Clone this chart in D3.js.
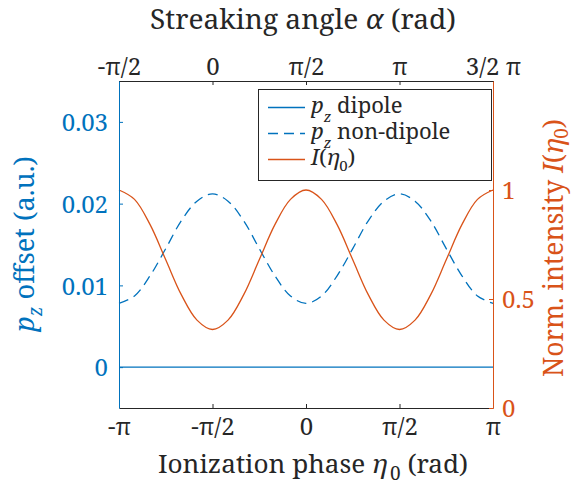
<!DOCTYPE html>
<html><head><meta charset="utf-8">
<script src="https://cdn.jsdelivr.net/npm/d3@7"></script>
<style>
body{margin:0;background:#fff}
svg{display:block}
</style>
</head><body>
<svg id="chart" width="574" height="487" font-family="Noto Serif"></svg>
<script>
// ---- data ----
const etaOverPi = [-1,-0.917,-0.833,-0.75,-0.667,-0.583,-0.5,-0.417,-0.333,-0.25,-0.167,-0.083,0,0.083,0.167,0.25,0.333,0.417,0.5,0.583,0.667,0.75,0.833,0.917,1];
const pzDipole = [0,0,0,0,0,0,0,0,0,0,0,0,0,0,0,0,0,0,0,0,0,0,0,0,0];
const pzNonDipole = [0.0078,0.0087,0.0112,0.0145,0.0179,0.0203,0.0212,0.0203,0.0179,0.0145,0.0112,0.0087,0.0078,0.0087,0.0112,0.0145,0.0179,0.0203,0.0212,0.0203,0.0179,0.0145,0.0112,0.0087,0.0078];
const intensity = [1,0.957,0.84,0.68,0.52,0.403,0.36,0.403,0.52,0.68,0.84,0.957,1,0.957,0.84,0.68,0.52,0.403,0.36,0.403,0.52,0.68,0.84,0.957,1];

const bottomTicksOverPi = [-1,-0.5,0,0.5,1];
const bottomTickLabels = ["-π","-π/2","0","π/2","π"];
const topTicksOverPi = [-0.5,0,0.5,1,1.5];
const topTickLabels = ["-π/2","0","π/2","π","3/2 π"];
const leftTicks = [0,0.01,0.02,0.03];
const leftTickLabels = ["0","0.01","0.02","0.03"];
const rightTicks = [0,0.5,1];
const rightTickLabels = ["0","0.5","1"];

// ---- layout ----
const FONT = "Noto Serif";
const PI = Math.PI;
const L = 119, R = 493, T = 81, B = 408;
const BLUE = "#0072BD", ORANGE = "#D95319", DARK = "#262626";
const TICK = 24;

const svg = d3.select("#chart");
const x = d3.scaleLinear().domain([-PI, PI]).range([L, R]);
const xTop = d3.scaleLinear().domain([-PI/2, 3*PI/2]).range([L, R]);
const yL = d3.scaleLinear().domain([-0.005, 0.035]).range([B, T]);
const yR = d3.scaleLinear().domain([0, 1.5]).range([B, T]);

const pts = (ys) => etaOverPi.map((e,i)=>[e*PI, ys[i]]);

const plot = svg.append("g");
plot.append("path").datum(pts(pzDipole))
  .attr("fill","none").attr("stroke",BLUE).attr("stroke-width",1.3)
  .attr("d", d3.line().x(d=>x(d[0])).y(d=>yL(d[1])));
plot.append("path").datum(pts(pzNonDipole))
  .attr("fill","none").attr("stroke",BLUE).attr("stroke-width",1.3)
  .attr("stroke-dasharray","10,6")
  .attr("d", d3.line().x(d=>x(d[0])).y(d=>yL(d[1])).curve(d3.curveCatmullRom));
plot.append("path").datum(pts(intensity))
  .attr("fill","none").attr("stroke",ORANGE).attr("stroke-width",1.3)
  .attr("d", d3.line().x(d=>x(d[0])).y(d=>yR(d[1])).curve(d3.curveCatmullRom));

function styleAxis(g, color){
  g.attr("font-family", FONT).attr("font-size", TICK).attr("color", color);
  g.selectAll("text").attr("font-family", FONT);
  g.select(".domain").attr("stroke-width",1);
  g.selectAll(".tick line").attr("stroke-width",1);
}

// bottom axis
const gB = svg.append("g").attr("transform",`translate(0,${B})`)
  .call(d3.axisBottom(x).tickValues(bottomTicksOverPi.map(v=>v*PI))
    .tickFormat((d,i)=>bottomTickLabels[i]).tickSizeInner(-4).tickSizeOuter(0).tickPadding(10));
styleAxis(gB, DARK);
// top axis
const gT = svg.append("g").attr("transform",`translate(0,${T})`)
  .call(d3.axisTop(xTop).tickValues(topTicksOverPi.map(v=>v*PI))
    .tickFormat((d,i)=>topTickLabels[i]).tickSizeInner(-4).tickSizeOuter(0).tickPadding(6));
styleAxis(gT, DARK);
// left axis
const gL = svg.append("g").attr("transform",`translate(${L},0)`)
  .call(d3.axisLeft(yL).tickValues(leftTicks)
    .tickFormat((d,i)=>leftTickLabels[i]).tickSizeInner(-4).tickSizeOuter(0).tickPadding(11));
styleAxis(gL, BLUE);
gL.selectAll("text").attr("dy","0.36em");
// right axis
const gR = svg.append("g").attr("transform",`translate(${R},0)`)
  .call(d3.axisRight(yR).tickValues(rightTicks)
    .tickFormat((d,i)=>rightTickLabels[i]).tickSizeInner(-4).tickSizeOuter(0).tickPadding(9));
styleAxis(gR, ORANGE);
gR.selectAll("text").attr("dy","0.36em");

// fit a label's font size so that its width matches the reference
function fit(sel, target){
  const w = sel.node().getBBox().width;
  const fs = +sel.attr("font-size");
  if (w > 0) sel.attr("font-size", (fs*target/w).toFixed(2));
}

// axis titles
const title = svg.append("text").attr("x",(L+R)/2 - 3).attr("y",29).attr("font-family",FONT)
  .attr("text-anchor","middle").attr("font-size",27).attr("fill",DARK);
title.append("tspan").text("Streaking angle ");
title.append("tspan").attr("font-style","italic").text("α");
title.append("tspan").text(" (rad)");

const xl = svg.append("text").attr("x",313).attr("y",473).attr("font-family",FONT)
  .attr("text-anchor","middle").attr("font-size",27).attr("fill",DARK);
xl.append("tspan").text("Ionization phase ");
xl.append("tspan").attr("font-style","italic").text("η");
xl.append("tspan").attr("font-size",19).attr("dy",7).attr("dx",3).text("0");
xl.append("tspan").attr("dy",-7).text(" (rad)");

const yl = svg.append("text").attr("transform","translate(34,244) rotate(-90)").attr("font-family",FONT)
  .attr("text-anchor","middle").attr("font-size",27).attr("fill",BLUE);
yl.append("tspan").attr("font-style","italic").text("p");
yl.append("tspan").attr("font-style","italic").attr("font-size",19).attr("dy",8).text("z");
yl.append("tspan").attr("dy",-8).text(" offset (a.u.)");

const yr = svg.append("text").attr("transform","translate(563,248) rotate(-90)").attr("font-family",FONT)
  .attr("text-anchor","middle").attr("font-size",27).attr("fill",ORANGE);
yr.append("tspan").text("Norm. intensity ");
yr.append("tspan").attr("font-style","italic").text("I");
yr.append("tspan").text("(");
yr.append("tspan").attr("font-style","italic").text("η");
yr.append("tspan").attr("font-size",19).attr("dy",5).text("0");
yr.append("tspan").attr("dy",-5).text(")");

function fitAll(){
  fit(title, 306);
  fit(xl, 310);
  fit(yl, 177);
  fit(yr, 258);
}
fitAll();

// legend
const lg = svg.append("g");
lg.append("rect").attr("x",258.5).attr("y",89.5).attr("width",233).attr("height",91)
  .attr("fill","#fff").attr("stroke",DARK).attr("stroke-width",1);
const legendItems = [
  {color:BLUE, dash:null, parts:[["p","i",0],["z","i",9,15],[" dipole","n",-9]]},
  {color:BLUE, dash:"10,6", parts:[["p","i",0],["z","i",9,15],[" non-dipole","n",-9]]},
  {color:ORANGE, dash:null, parts:[["I","i",0],["(","n",0],["η","i",0],["0","n",6,15],[")","n",-6]]}
];
legendItems.forEach((it,k)=>{
  const yb = 113 + k*26;
  lg.append("line").attr("x1",268).attr("x2",305).attr("y1",yb-5.5).attr("y2",yb-5.5)
    .attr("stroke",it.color).attr("stroke-width",1.3)
    .attr("stroke-dasharray",it.dash);
  const t = lg.append("text").attr("x",311).attr("y",yb).attr("font-family",FONT)
    .attr("font-size",22).attr("fill",DARK);
  it.parts.forEach(p=>{
    const s = t.append("tspan").text(p[0]).attr("dy",p[2]);
    if(p[1]==="i") s.attr("font-style","italic");
    if(p[3]) s.attr("font-size",p[3]);
  });
});

// re-apply the font once it is ready, in case it loads late
if (document.fonts && document.fonts.load) {
  document.fonts.load("24px 'Noto Serif'").then(()=>{
    svg.selectAll("text").attr("font-family", FONT);
    fitAll();
  }).catch(()=>{});
}
</script>
</body></html>
